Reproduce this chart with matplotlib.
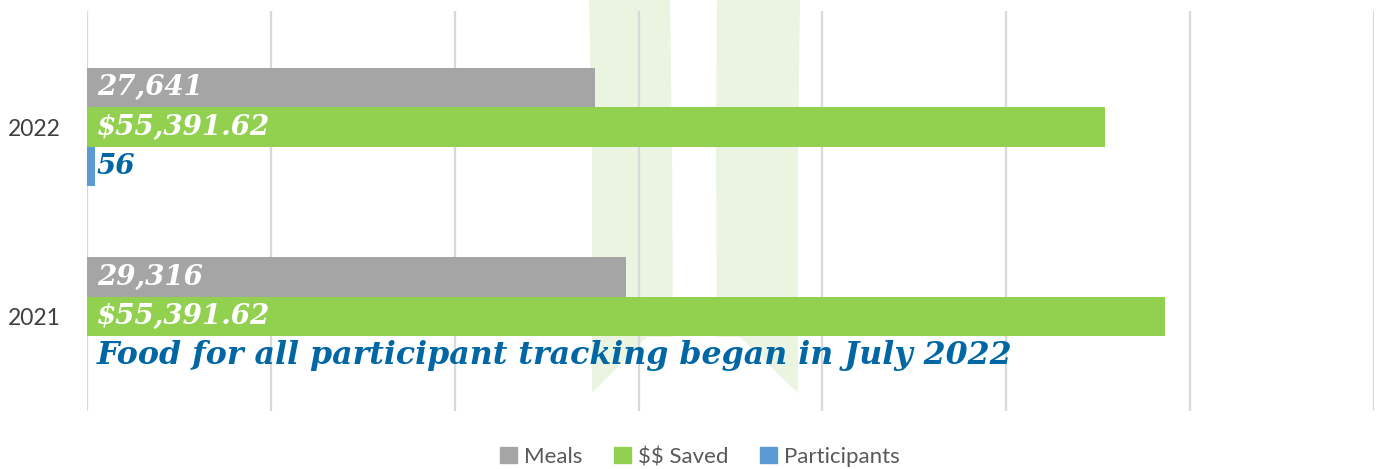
import matplotlib.pyplot as plt
from matplotlib.patches import Polygon, Patch

plt.rcParams['text.parse_math'] = False

# data
years = ['2022', '2021']
meals = [27641, 29316]
saved = [55391.62, 58632]
participants = [430, 0]          # drawn bar length (2022 bar is a thin sliver)
meals_lbl = ['27,641', '29,316']
saved_lbl = ['$55,391.62', '$55,391.62']
part_lbl = ['56', 'Food for all participant tracking began in July 2022']

c_meals = '#A5A5A5'
c_saved = '#92D050'
c_part = '#5B9BD5'
c_note = '#0066A4'

fig = plt.figure(figsize=(13.77, 4.69), dpi=100)
W, H = 1377, 469

# faint logo watermark behind the chart
def px(pts):
    return [(x / W, 1 - y / H) for x, y in pts]

wm = '#EAF4E1'
fig.patches.append(Polygon(px([(589, 0), (670, 0), (672, 150), (673, 337), (647, 337), (592, 393), (592, 150)]),
                           closed=True, transform=fig.transFigure, fc=wm, ec='none', zorder=0))
fig.patches.append(Polygon(px([(717, 0), (800, 0), (798, 150), (798, 393), (740, 337), (717, 337), (716, 150)]),
                           closed=True, transform=fig.transFigure, fc=wm, ec='none', zorder=0))

ax = fig.add_axes([87 / W, 1 - 411 / H, (1374 - 87) / W, 400 / H])
ax.set_zorder(2)
ax.patch.set_alpha(0)

pos = range(len(years))
h = 0.208
ax.barh([p - h for p in pos], meals, height=h, color=c_meals, zorder=2)
ax.barh(list(pos), saved, height=h, color=c_saved, zorder=2)
ax.barh([p + h for p in pos], participants, height=h, color=c_part, zorder=2)

lab = dict(fontfamily='DejaVu Serif', fontweight='bold', fontstyle='italic',
           va='center', ha='left', textcoords='offset points', zorder=3)
for p in pos:
    ax.annotate(meals_lbl[p], xy=(0, p - h), xytext=(7, 0), color='white', fontsize=20, **lab)
    ax.annotate(saved_lbl[p], xy=(0, p), xytext=(7, 0), color='white', fontsize=20, **lab)
    ax.annotate(part_lbl[p], xy=(0, p + h), xytext=(7, 0), color=c_note,
                fontsize=20 if p == 0 else 22.8, **lab)

ax.set_xlim(0, 70000)
ax.set_xticks(range(0, 70001, 10000))
ax.set_ylim(1 + (411 - 316.5) / 189.5, -(127 - 11) / 189.5)
ax.set_yticks(list(pos))
ax.set_yticklabels(years, fontsize=16.5, color='#404040', fontfamily='Lato')
ax.tick_params(axis='y', length=0, pad=19)
ax.tick_params(axis='x', length=0, labelbottom=False)
ax.grid(axis='x', color='#D9D9D9', linewidth=1.6, zorder=1)
for s in ax.spines.values():
    s.set_visible(False)

handles = [Patch(color=c_meals, label='Meals'),
           Patch(color=c_saved, label='$$ Saved'),
           Patch(color=c_part, label='Participants')]
fig.legend(handles=handles, loc='center', bbox_to_anchor=(700 / W, 1 - 457 / H), ncol=3,
           frameon=False, handlelength=0.75, handleheight=0.75, handletextpad=0.35,
           columnspacing=1.4, prop={'family': 'Lato', 'size': 16},
           labelcolor='#595959')

fig.savefig('out.png', dpi=100)
